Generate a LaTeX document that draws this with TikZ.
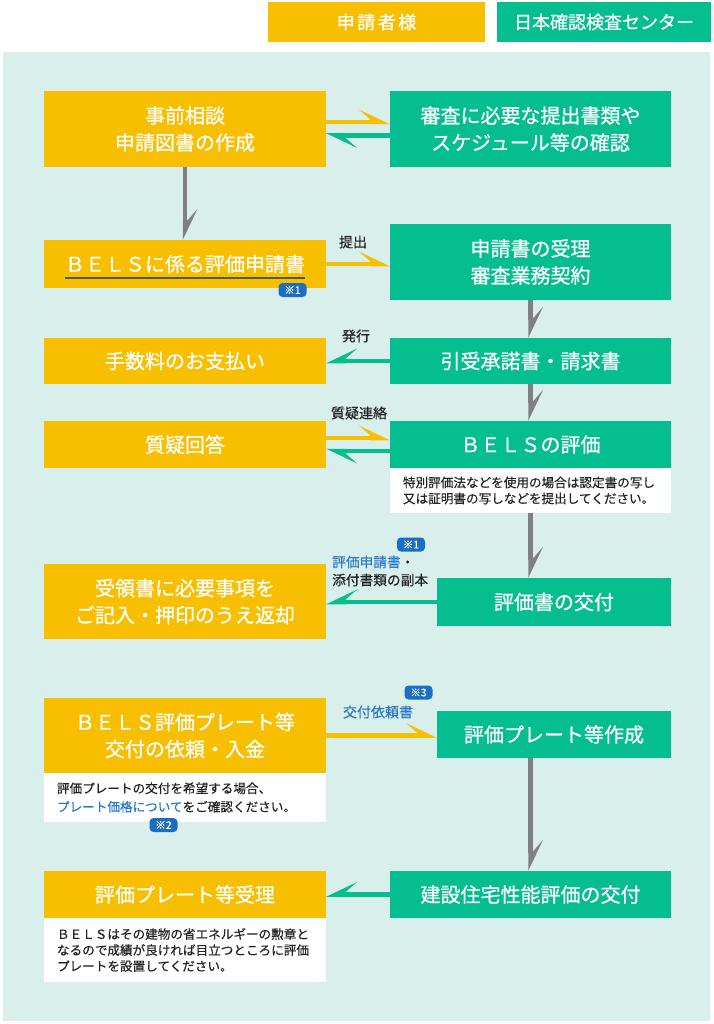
\documentclass[tikz,border=0pt]{standalone}
\usepackage{fontspec}
\setmainfont{Noto Sans CJK JP}
\newfontfamily\boxfont[FakeBold=0.7]{Noto Sans CJK JP}
\newfontfamily\lblfont[FakeBold=0.3]{Noto Sans CJK JP}
\usetikzlibrary{calc}
\definecolor{ycol}{HTML}{F8BE00}
\definecolor{gcol}{HTML}{05BE8F}
\definecolor{bgteal}{HTML}{D8EFEB}
\definecolor{arrgray}{HTML}{808080}
\definecolor{bcol}{HTML}{1C6FC0}
\definecolor{btext}{HTML}{2878C8}
\definecolor{ulcol}{HTML}{4D5A50}
\definecolor{ntext}{HTML}{222222}
\pgfdeclarearrow{
  name = BarbL,
  setup code = {
    \pgfarrowssettipend{0pt}
    \pgfarrowssetlineend{-18pt}
    \pgfarrowssetbackend{-31pt}
    \pgfarrowshullpoint{0pt}{-2.25pt}
    \pgfarrowshullpoint{-31pt}{12.5pt}
    \pgfarrowshullpoint{-20pt}{-2.25pt}
  },
  drawing code = {
    \pgfpathmoveto{\pgfqpoint{0pt}{-2.25pt}}
    \pgfpathlineto{\pgfqpoint{-31pt}{12.5pt}}
    \pgfpathlineto{\pgfqpoint{-19pt}{2.25pt}}
    \pgfpathlineto{\pgfqpoint{-20pt}{2.25pt}}
    \pgfpathlineto{\pgfqpoint{-20pt}{-2.25pt}}
    \pgfpathclose
    \pgfusepathqfill
  }
}
\pgfdeclarearrow{
  name = BarbR,
  setup code = {
    \pgfarrowssettipend{0pt}
    \pgfarrowssetlineend{-18pt}
    \pgfarrowssetbackend{-31pt}
    \pgfarrowshullpoint{0pt}{2.25pt}
    \pgfarrowshullpoint{-31pt}{-12.5pt}
    \pgfarrowshullpoint{-20pt}{2.25pt}
  },
  drawing code = {
    \pgfpathmoveto{\pgfqpoint{0pt}{2.25pt}}
    \pgfpathlineto{\pgfqpoint{-31pt}{-12.5pt}}
    \pgfpathlineto{\pgfqpoint{-19pt}{-2.25pt}}
    \pgfpathlineto{\pgfqpoint{-20pt}{-2.25pt}}
    \pgfpathlineto{\pgfqpoint{-20pt}{2.25pt}}
    \pgfpathclose
    \pgfusepathqfill
  }
}
\tikzset{
  boxbase/.style={text=white, inner sep=0pt, align=center, font=\boxfont\fontsize{20}{27}\selectfont},
  ybox/.style={boxbase, fill=ycol, minimum width=282pt},
  gbox/.style={boxbase, fill=gcol},
  note/.style={fill=white, text=ntext, inner xsep=13pt, inner ysep=0pt, text width=256pt, align=left, font=\lblfont\fontsize{12.6}{16}\selectfont},
  badge/.style={fill=bcol, rounded corners=4pt, text=white, minimum width=28pt, minimum height=14pt, inner sep=0pt, font=\lblfont\fontsize{10.5}{10.5}\selectfont},
  lbl/.style={text=ntext, inner sep=0pt, font=\lblfont\fontsize{14}{18}\selectfont},
  yarr/.style={draw=ycol, line width=4.5pt, -BarbL},
  garrL/.style={draw=gcol, line width=4.5pt, -BarbL},
  garrR/.style={draw=gcol, line width=4.5pt, -BarbR},
  karr/.style={draw=arrgray, line width=4.5pt, -BarbL},
}
\begin{document}
\begin{tikzpicture}[x=1pt, y=-1pt]
\fill[white] (0,0) rectangle (713,1024);
\useasboundingbox (0,0) rectangle (713,1024);
\fill[bgteal] (3,52) rectangle (710,1021);

% legend
\node[boxbase, fill=ycol, minimum width=217pt, minimum height=40pt, font=\boxfont\fontsize{18}{20}\selectfont] (LY) at (376.5,22) {申\hspace{2.5pt}請\hspace{2.5pt}者\hspace{2.5pt}様};
\node[boxbase, fill=gcol, minimum width=214pt, minimum height=40pt, font=\boxfont\fontsize{18}{20}\selectfont] (LG) at (604,22) {日本確認検査センター};

% row 1
\node[ybox, minimum height=76pt] (L1) at (185,129) {事前相談\\申請図書の作成};
\node[gbox, minimum width=281pt, minimum height=76pt] (R1) at (530.5,129) {審査に必要な提出書類や\\スケジュール等の確認};

% row 2
\node[ybox, minimum height=48pt] (L2) at (185,264) {ＢＥＬＳに係る評価申請書};
\node[gbox, minimum width=281pt, minimum height=76pt] (R2) at (530.5,262) {申請書の受理\\審査業務契約};
\draw[ulcol, line width=2pt] ([xshift=-120pt,yshift=-14pt]L2.center) -- ([xshift=120pt,yshift=-14pt]L2.center);
\node[badge] (B1) at (292.5,290) {※1};

% row 3
\node[ybox, minimum height=46pt] (L3) at (185,361) {手数料のお支払い};
\node[gbox, minimum width=281pt, minimum height=46pt] (R3) at (530.5,361) {引受承諾書・請求書};

% row 4
\node[ybox, minimum height=47pt] (L4) at (185,444.5) {質疑回答};
\node[gbox, minimum width=281pt, minimum height=47pt] (R4) at (530.5,444.5) {ＢＥＬＳの評価};
\node[note, text width=255pt, minimum height=45pt] (N4) at (530.5,490.5) {特別評価法などを使用の場合は認定書の写し\\又は証明書の写しなどを提出してください。};

% row 5
\node[ybox, minimum height=75pt] (L5) at (185,601.5) {受領書に必要事項を\\ご記入・押印のうえ返却};
\node[gbox, minimum width=234pt, minimum height=48pt] (R5) at (554,602) {評価書の交付};

% row 6
\node[ybox, minimum height=75pt] (L6) at (185,735.5) {ＢＥＬＳ評価プレート等\\交付の依頼・入金};
\node[note, minimum height=49pt, font=\lblfont\fontsize{12.6}{18.5}\selectfont] (N6) at (185,797.5) {評価プレートの交付を希望する場合、\\\textcolor{btext}{プレート価格について}をご確認ください。};
\node[badge] (B2) at (163.5,825) {※2};
\node[gbox, minimum width=234pt, minimum height=47pt] (R6) at (554,734.5) {評価プレート等作成};

% row 7
\node[ybox, minimum height=47pt] (L7) at (185,894.5) {評価プレート等受理};
\node[gbox, minimum width=281pt, minimum height=47pt] (R7) at (530.5,894.5) {建設住宅性能評価の交付};
\node[note, minimum height=64pt] (N7) at (185,950) {ＢＥＬＳはその建物の省エネルギーの勲章と\\なるので成績が良ければ目立つところに評価\\プレートを設置してください。};

% labels
\node[lbl] (T1) at (353,242) {提出};
\node[lbl] (T2) at (356,336) {発行};
\node[lbl] (T3) at (359,413) {質疑連絡};
\node[badge] (B3) at (411,544.5) {※1};
\node[lbl, anchor=west, align=left, font=\lblfont\fontsize{13.7}{18}\selectfont] (T4) at (332,571) {\textcolor{btext}{評価申請書}・\\添付書類の副本};
\node[badge] (B4) at (418.5,692.5) {※3};
\node[lbl, text=btext] (T5) at (378,712) {交付依頼書};

% connectors
\draw[yarr] ([yshift=7pt]L1.east) -- ([yshift=7pt]R1.west);
\draw[garrL] ([yshift=-6.5pt]R1.west) -- ([yshift=-6.5pt]L1.east);
\draw[karr] (L1.south) -- (L2.north);
\draw[yarr] (L2.east) -- (R2.west |- L2.east);
\draw[karr] (R2.south) -- (R3.north);
\draw[garrR] (R3.west) -- (L3.east);
\draw[karr] (R3.south) -- (R4.north);
\draw[yarr] ([yshift=6.5pt]L4.east) -- ([yshift=6.5pt]R4.west);
\draw[garrL] ([yshift=-6.5pt]R4.west) -- ([yshift=-6.5pt]L4.east);
\draw[karr] (N4.south) -- (N4.south |- R5.north);
\draw[garrR] (R5.west) -- (L5.east |- R5.west);
\draw[yarr] (L6.east) -- (R6.west |- L6.east);
\draw[karr] (R7.north |- R6.south) -- (R7.north);
\draw[garrR] (R7.west) -- (L7.east);
\end{tikzpicture}
\end{document}
